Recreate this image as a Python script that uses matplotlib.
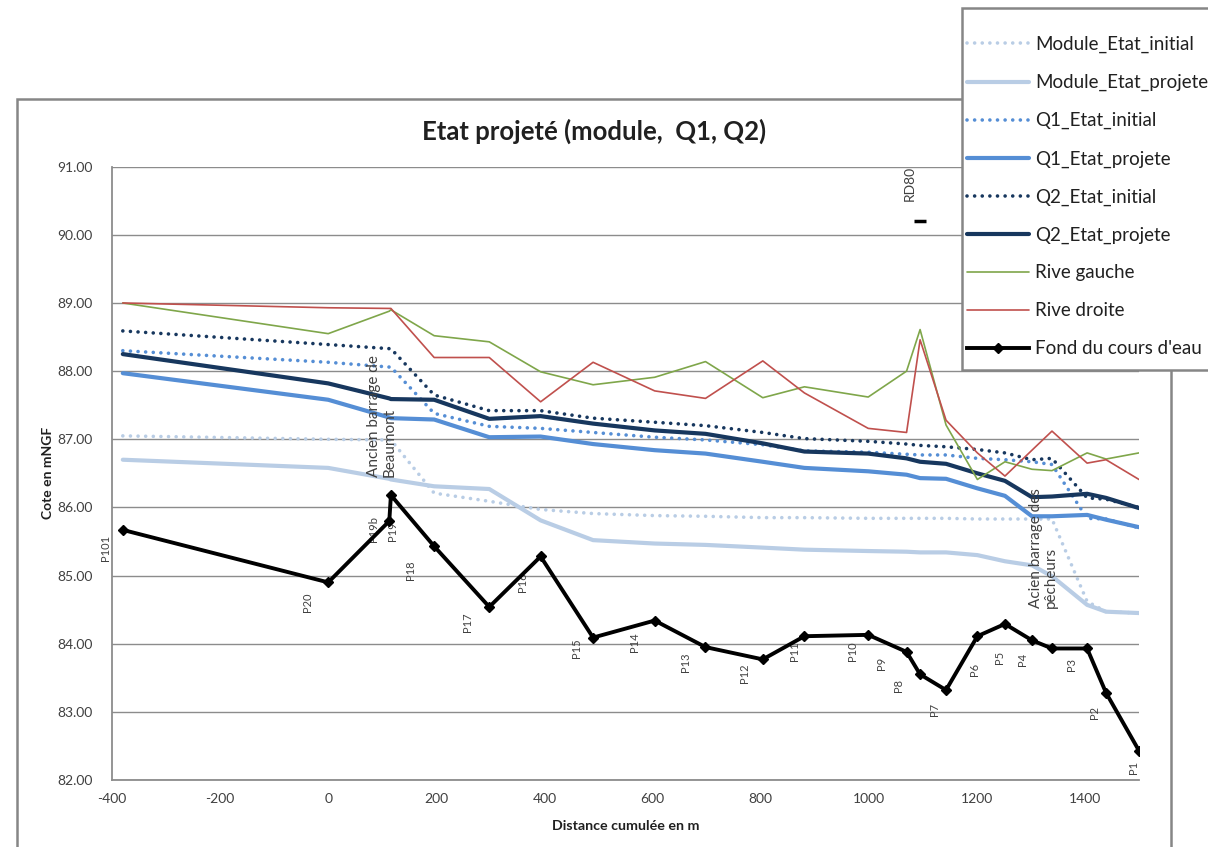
import matplotlib
matplotlib.use("Agg")
import matplotlib.pyplot as plt
from matplotlib.patches import Rectangle

plt.rcParams['font.family'] = ['Lato', 'DejaVu Sans']
plt.rcParams['axes.unicode_minus'] = False

# Cumulative distance of each profile (m)
distance = [-380, 0, 113, 116, 196, 298, 393, 490, 604, 698, 804, 881, 999,
            1070, 1095, 1143, 1201, 1252, 1302, 1339, 1404, 1439, 1500]
profils = ["P101", "P20", "P19b", "P19", "P18", "P17", "P16", "P15", "P14",
           "P13", "P12", "P11", "P10", "P9", "P8", "P7", "P6", "P5", "P4",
           "", "P3", "P2", "P1"]

# Elevations (m NGF)
fond = [85.67, 84.90, 85.80, 86.18, 85.43, 84.54, 85.28, 84.09, 84.34, 83.95,
        83.77, 84.11, 84.13, 83.88, 83.55, 83.32, 84.11, 84.29, 84.05, 83.93,
        83.93, 83.28, 82.43]
rive_droite = [89.00, 88.93, 88.92, 88.92, 88.20, 88.20, 87.55, 88.13, 87.71,
               87.60, 88.15, 87.68, 87.16, 87.10, 88.46, 87.28, 86.80, 86.46,
               86.84, 87.12, 86.65, 86.70, 86.41]
rive_gauche = [89.00, 88.55, 88.88, 88.90, 88.52, 88.43, 87.99, 87.80, 87.91,
               88.14, 87.61, 87.77, 87.62, 88.00, 88.61, 87.21, 86.41, 86.67,
               86.56, 86.54, 86.80, 86.71, 86.80]
q2_initial = [88.59, 88.39, 88.33, 88.33, 87.65, 87.42, 87.42, 87.31, 87.25,
              87.20, 87.10, 87.01, 86.97, 86.93, 86.91, 86.89, 86.85, 86.80,
              86.70, 86.72, 86.14, 86.12, 86.00]
q2_projete = [88.25, 87.82, 87.60, 87.59, 87.58, 87.30, 87.34, 87.23, 87.13,
              87.08, 86.94, 86.82, 86.79, 86.72, 86.67, 86.64, 86.50, 86.39,
              86.15, 86.16, 86.20, 86.14, 85.99]
q1_initial = [88.30, 88.13, 88.06, 88.06, 87.38, 87.19, 87.16, 87.10, 87.03,
              86.99, 86.92, 86.83, 86.81, 86.78, 86.77, 86.77, 86.72, 86.70,
              86.67, 86.63, 85.84, 85.83, 85.70]
q1_projete = [87.97, 87.58, 87.32, 87.31, 87.29, 87.03, 87.04, 86.93, 86.84,
              86.79, 86.67, 86.58, 86.53, 86.48, 86.43, 86.42, 86.28, 86.17,
              85.87, 85.87, 85.89, 85.82, 85.71]
module_initial = [87.05, 87.00, 86.99, 86.99, 86.21, 86.09, 85.97, 85.91,
                  85.88, 85.87, 85.85, 85.85, 85.84, 85.84, 85.84, 85.84,
                  85.83, 85.83, 85.83, 85.83, 84.62, 84.47, 84.45]
module_projete = [86.70, 86.58, 86.42, 86.41, 86.31, 86.27, 85.81, 85.52,
                  85.47, 85.45, 85.41, 85.38, 85.36, 85.35, 85.34, 85.34,
                  85.30, 85.21, 85.15, 84.99, 84.57, 84.47, 84.45]

# Road bridge marker
rd80_distance = [1095]
rd80_cote = [90.21]

W, H = 1208, 847
fig = plt.figure(figsize=(W / 100, H / 100), dpi=100)

def fx(px):
    return px / W

def fy(py):
    return 1 - py / H

ax = fig.add_axes([fx(112), fy(780), fx(1139) - fx(112), fy(166.7) - fy(780)])

c_module = '#B9CDE5'
c_q1 = '#558ED5'
c_q2 = '#17375E'
c_rg = '#7FA64A'
c_rd = '#C0504D'
dots = (0, (0.01, 2.1))

series = [
    (module_initial, 'Module_Etat_initial', c_module, dots, 2.6),
    (module_projete, 'Module_Etat_projete', c_module, '-', 3.0),
    (q1_initial, 'Q1_Etat_initial', c_q1, dots, 2.6),
    (q1_projete, 'Q1_Etat_projete', c_q1, '-', 3.0),
    (q2_initial, 'Q2_Etat_initial', c_q2, dots, 2.6),
    (q2_projete, 'Q2_Etat_projete', c_q2, '-', 3.0),
    (rive_gauche, 'Rive gauche', c_rg, '-', 1.2),
    (rive_droite, 'Rive droite', c_rd, '-', 1.2),
]
handles = []
for vals, lab, col, ls, lw in series:
    ln, = ax.plot(distance, vals, color=col, linestyle=ls, linewidth=lw,
                  solid_capstyle='round', dash_capstyle='round', label=lab)
    handles.append(ln)

ln_fond, = ax.plot(distance, fond, color='black', linewidth=2.8, marker='D',
                   markersize=5.5, label="Fond du cours d'eau", zorder=5)
handles.append(ln_fond)

ax.plot(rd80_distance, rd80_cote, linestyle='none', marker='_',
        markersize=8, markeredgewidth=2.5, color='black', zorder=5)
ax.annotate('RD80', (rd80_distance[0], rd80_cote[0]), xytext=(-10, 20),
            textcoords='offset pixels', rotation=90, ha='center',
            va='bottom', fontsize=10, color='#404040')

# Profile labels (pixel offsets of each label from its point)
label_offsets = [(-17, 18), (-21, 20), (-16, 8), (2, 36), (-24, 24),
                 (-22, 15), (-18, 26), (-17, 11), (-20, 22), (-20, 15),
                 (-18, 14), (-10, 15), (-16, 16), (-25, 11), (-22, 11),
                 (-12, 19), (-3, 33), (-5, 33), (-9, 19), (0, 0),
                 (-16, 16), (-12, 20), (-5, 17)]
for xv, yv, name, (dx, dy) in zip(distance, fond, profils, label_offsets):
    if name:
        ax.annotate(name, (xv, yv), xytext=(dx, -dy),
                    textcoords='offset pixels', rotation=90, ha='center',
                    va='center', fontsize=8, color='#404040')

ax.text(100, 86.45, 'Ancien barrage de\nBeaumont', rotation=90,
        ha='center', va='bottom', multialignment='left', fontsize=11,
        color='#404040', linespacing=1.15)
ax.text(1323, 84.53, 'Acien barrage des\npêcheurs', rotation=90,
        ha='center', va='bottom', multialignment='left', fontsize=11,
        color='#404040', linespacing=1.15)

ax.set_xlim(-400, 1500)
ax.set_ylim(82, 91)
ax.set_xticks(range(-400, 1401, 200))
ax.set_yticks(range(82, 92))
ax.yaxis.set_major_formatter(matplotlib.ticker.FormatStrFormatter('%.2f'))
ax.tick_params(length=0, labelsize=10, labelcolor='#404040')
ax.tick_params(axis='y', pad=14)
ax.tick_params(axis='x', pad=9)
ax.grid(axis='y', color='#8c8c8c', linewidth=1.0)
ax.set_axisbelow(True)
for s in ('top', 'right'):
    ax.spines[s].set_visible(False)
for s in ('left', 'bottom'):
    ax.spines[s].set_color('#8c8c8c')
    ax.spines[s].set_linewidth(1.3)

fig.text(fx(48), fy(473), 'Cote en mNGF', rotation=90, ha='center',
         va='center', fontsize=10, fontweight='bold', color='#202020')
fig.text(fx(626), fy(826), 'Distance cumulée en m', ha='center',
         va='center', fontsize=10.3, fontweight='bold', color='#202020')
fig.text(fx(594), fy(131), 'Etat projeté (module,  Q1, Q2)', ha='center',
         va='center', fontsize=18.5, fontweight='bold', color='#202020')

# Chart area border
fig.patches.append(Rectangle((fx(17), fy(870)), fx(1171) - fx(17),
                             fy(99) - fy(870), transform=fig.transFigure,
                             fill=False, edgecolor='#868686', linewidth=1.8,
                             zorder=0))

# Legend box
fig.patches.append(Rectangle((fx(962), fy(370)), fx(1240) - fx(962),
                             fy(8) - fy(370), transform=fig.transFigure,
                             facecolor='white', edgecolor='#868686',
                             linewidth=1.8, zorder=10))
leg = fig.legend(handles, [h.get_label() for h in handles], loc='upper left',
                 bbox_to_anchor=(fx(967), fy(36)), frameon=False,
                 borderpad=0, borderaxespad=0, fontsize=13.5,
                 handlelength=3.3, handletextpad=0.32, labelspacing=1.11,
                 labelcolor='#202020')
leg.set_zorder(11)

fig.savefig('out.png', dpi=100)
